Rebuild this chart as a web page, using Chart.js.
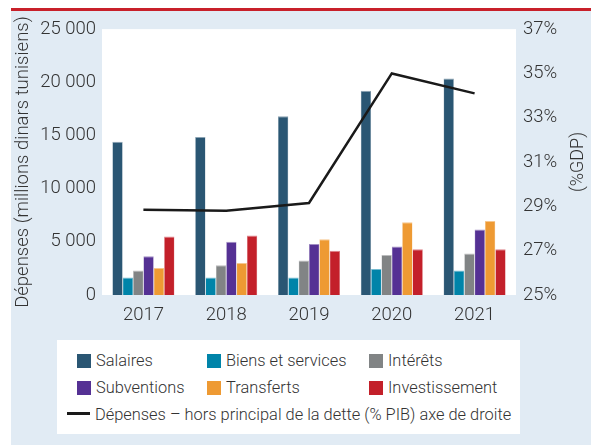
<!DOCTYPE html>
<html>
<head>
<meta charset="utf-8">
<script src="https://cdn.jsdelivr.net/npm/chart.js@4/dist/chart.umd.min.js"></script>
<style>
  body { margin:0; background:#fff; width:591px; height:445px; overflow:hidden; position:relative;
         font-family:Roboto,'Liberation Sans',sans-serif; font-weight:300; color:#333; }
  #redline { position:absolute; left:11px; top:8px; width:580px; height:3px; background:#c8202a; }
  #panel { position:absolute; left:11px; top:11px; width:580px; height:434px; background:#e1ebf4; }
  #wrap { position:absolute; left:0; top:0; width:580px; height:320px; }
  #legend { position:absolute; left:46px; top:329px; width:463px; height:94px; background:#fff; }
  .item { position:absolute; font-size:16.4px; line-height:14px; white-space:nowrap; }
  .sw { display:inline-block; width:14px; height:14px; vertical-align:top; margin-right:5px; }
  .ln { display:inline-block; width:23px; height:3px; background:#1a1a1a; vertical-align:middle; margin-right:5px; position:relative; top:-2px; }
</style>
</head>
<body>
<div id="redline"></div>
<div id="panel">
  <div id="wrap"><canvas id="chart"></canvas></div>
  <div id="legend"></div>
</div>
<script>
// ---------- Data ----------
const years = ['2017', '2018', '2019', '2020', '2021'];
const salaires       = [14400, 14850, 16800, 19200, 20350];
const biens          = [1650, 1650, 1650, 2450, 2300];
const interets       = [2300, 2800, 3250, 3750, 3900];
const subventions    = [3650, 5000, 4800, 4550, 6150];
const transferts     = [2550, 3000, 5250, 6850, 6950];
const investissement = [5500, 5600, 4150, 4300, 4300];
const depensesPib    = [28.85, 28.8, 29.15, 35.0, 34.1];  // % PIB, right axis

const barNames  = ['Salaires', 'Biens et services', 'Intérêts', 'Subventions', 'Transferts', 'Investissement'];
const barSeries = [salaires, biens, interets, subventions, transferts, investissement];
const barColors = ['#2a5673', '#0084a9', '#818485', '#553194', '#ee9a33', '#c3202a'];
const lineName  = 'Dépenses – hors principal de la dette (% PIB) axe de droite';
const rightTitle = '(%GDP)';

const FONT = "Roboto,'Liberation Sans',sans-serif";
const TXT = '#333';

function lighten(hex, amt) {
  const n = parseInt(hex.slice(1), 16);
  const r = n >> 16, g = (n >> 8) & 255, b = n & 255;
  const f = c => Math.round(c + (255 - c) * amt);
  return `rgb(${f(r)},${f(g)},${f(b)})`;
}
function fmtThousands(v) { return String(v).replace(/\B(?=(\d{3})+(?!\d))/g, ' '); }

// white plot area + right axis title read bottom-to-top
const plotBg = {
  id: 'plotBg',
  beforeDraw(chart) {
    const a = chart.chartArea, ctx = chart.ctx;
    ctx.save(); ctx.fillStyle = '#fff';
    ctx.fillRect(a.left, a.top, a.right - a.left, a.bottom - a.top);
    ctx.restore();
  },
  afterDraw(chart) {
    const s = chart.scales.y1, ctx = chart.ctx;
    ctx.save();
    ctx.translate(s.right - 13, (s.top + s.bottom) / 2);
    ctx.rotate(-Math.PI / 2);
    ctx.fillStyle = TXT;
    ctx.font = `300 18px ${FONT}`;
    ctx.textAlign = 'center';
    ctx.textBaseline = 'middle';
    ctx.fillText(rightTitle, 0, 0);
    ctx.restore();
  }
};

const datasets = barSeries.map((s, i) => ({
  type: 'bar',
  label: barNames[i],
  data: s,
  backgroundColor: barColors[i],
  borderColor: lighten(barColors[i], 0.45),
  borderWidth: { top: 1, left: 0.5, right: 0.5, bottom: 0 },
  borderSkipped: 'bottom',
  yAxisID: 'y',
  categoryPercentage: 0.75,
  barPercentage: 1,
  order: 2
}));
datasets.push({
  type: 'line',
  label: lineName,
  data: depensesPib,
  borderColor: '#1a1a1a',
  borderWidth: 2.5,
  pointRadius: 0,
  tension: 0,
  yAxisID: 'y1',
  order: 1
});

const tickFont = { family: FONT, size: 18.5, weight: '300' };
const titleFont = { family: FONT, size: 18.5, weight: '300' };

new Chart(document.getElementById('chart'), {
  data: { labels: years, datasets },
  plugins: [plotBg],
  options: {
    responsive: true,
    maintainAspectRatio: false,
    animation: false,
    layout: { padding: { top: 18, left: 0, right: 0, bottom: 0 } },
    plugins: { legend: { display: false }, tooltip: { enabled: false } },
    scales: {
      x: {
        grid: { display: false, drawTicks: false },
        border: { display: false },
        ticks: { color: TXT, font: tickFont, padding: 9 },
        afterFit(s) { s.height = 36; }
      },
      y: {
        position: 'left',
        min: 0, max: 25000,
        grid: { display: false, drawTicks: false },
        border: { display: false },
        ticks: { stepSize: 5000, color: TXT, font: tickFont, padding: 6,
                 callback: v => fmtThousands(v) },
        title: { display: true, text: 'Dépenses (millions dinars tunisiens)', color: TXT,
                 font: titleFont, padding: { top: 1, bottom: 0 } },
        afterFit(s) { s.width = 91; }
      },
      y1: {
        position: 'right',
        min: 25, max: 37,
        grid: { display: false, drawTicks: false },
        border: { display: false },
        ticks: { stepSize: 2, color: TXT, font: tickFont, padding: 7,
                 callback: v => v + '%' },
        afterFit(s) { s.width = 75; }
      }
    }
  }
});

// ---------- Legend (HTML) ----------
const legend = document.getElementById('legend');
const colX = [20, 150, 312];
const rowY = [14, 41];
barNames.forEach((name, i) => {
  const d = document.createElement('div');
  d.className = 'item';
  d.style.left = colX[i % 3] + 'px';
  d.style.top = rowY[Math.floor(i / 3)] + 'px';
  d.innerHTML = `<span class="sw" style="background:${barColors[i]}"></span>${name}`;
  legend.appendChild(d);
});
const l = document.createElement('div');
l.className = 'item';
l.style.left = '10px';
l.style.top = '68px';
l.innerHTML = `<span class="ln"></span>${lineName}`;
legend.appendChild(l);
</script>
</body>
</html>
